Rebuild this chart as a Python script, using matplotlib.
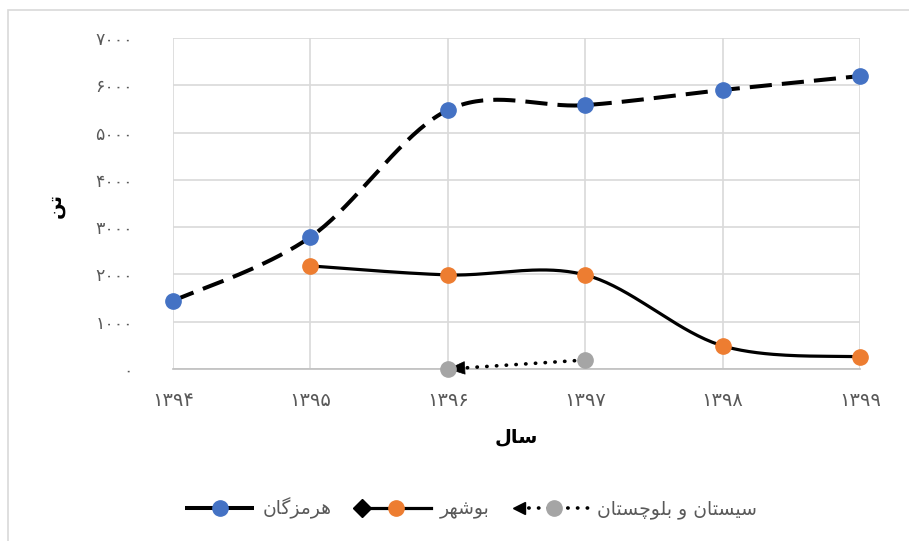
import numpy as np
import matplotlib
matplotlib.use("Agg")
import matplotlib.pyplot as plt
from matplotlib.lines import Line2D
from matplotlib.legend_handler import HandlerBase
from matplotlib.patches import Rectangle

# ---------------- data ----------------
years = [1394, 1395, 1396, 1397, 1398, 1399]
year_labels = ["۱۳۹۴", "۱۳۹۵", "۱۳۹۶", "۱۳۹۷", "۱۳۹۸", "۱۳۹۹"]

hormozgan_years = [1394, 1395, 1396, 1397, 1398, 1399]
hormozgan_vals = [1440, 2790, 5475, 5580, 5900, 6195]

bushehr_years = [1395, 1396, 1397, 1398, 1399]
bushehr_vals = [2180, 1990, 1990, 490, 255]

sistan_years = [1396, 1397]
sistan_vals = [0, 190]

y_ticks = [0, 1000, 2000, 3000, 4000, 5000, 6000, 7000]
y_tick_labels = ["۰", "۱۰۰۰", "۲۰۰۰", "۳۰۰۰", "۴۰۰۰", "۵۰۰۰", "۶۰۰۰", "۷۰۰۰"]

name_hormozgan = "هرمزگان"
name_bushehr = "بوشهر"
name_sistan = "سیستان و بلوچستان"
x_title = "سال"
y_title = "تن"

# ---------------- simple Persian shaping ----------------
FORMS = {
    'ا': ('\uFE8D', '\uFE8E'),
    'و': ('\uFEED', '\uFEEE'),
    'ر': ('\uFEAD', '\uFEAE'),
    'ز': ('\uFEAF', '\uFEB0'),
    'ب': ('\uFE8F', '\uFE90', '\uFE91', '\uFE92'),
    'ت': ('\uFE95', '\uFE96', '\uFE97', '\uFE98'),
    'س': ('\uFEB1', '\uFEB2', '\uFEB3', '\uFEB4'),
    'ش': ('\uFEB5', '\uFEB6', '\uFEB7', '\uFEB8'),
    'ل': ('\uFEDD', '\uFEDE', '\uFEDF', '\uFEE0'),
    'م': ('\uFEE1', '\uFEE2', '\uFEE3', '\uFEE4'),
    'ن': ('\uFEE5', '\uFEE6', '\uFEE7', '\uFEE8'),
    'ه': ('\uFEE9', '\uFEEA', '\uFEEB', '\uFEEC'),
    'ی': ('\uFBFC', '\uFBFD', '\uFBFE', '\uFBFF'),
    'گ': ('\uFB92', '\uFB93', '\uFB94', '\uFB95'),
    'چ': ('\uFB7A', '\uFB7B', '\uFB7C', '\uFB7D'),
}


def shape(text):
    out = []
    n = len(text)
    for i, ch in enumerate(text):
        if ch not in FORMS:
            out.append(ch)
            continue
        prev = text[i - 1] if i > 0 else None
        nxt = text[i + 1] if i + 1 < n else None
        join_prev = prev in FORMS and len(FORMS[prev]) == 4
        join_next = len(FORMS[ch]) == 4 and nxt in FORMS
        f = FORMS[ch]
        if join_prev and join_next:
            out.append(f[3])
        elif join_prev:
            out.append(f[1])
        elif join_next:
            out.append(f[2])
        else:
            out.append(f[0])
    return "".join(out[::-1])


def smooth(xs, ys, n=40):
    P = np.column_stack([xs, ys]).astype(float)
    m = len(P)
    if m < 3:
        return P[:, 0], P[:, 1]
    pts = []
    t = np.linspace(0, 1, n)
    for i in range(m - 1):
        p0 = P[i - 1] if i > 0 else P[i]
        p1 = P[i]
        p2 = P[i + 1]
        p3 = P[i + 2] if i + 2 < m else P[i + 1]
        c1 = p1 + (p2 - p0) / 6.0
        c2 = p2 - (p3 - p1) / 6.0
        seg = ((1 - t) ** 3)[:, None] * p1 + (3 * (1 - t) ** 2 * t)[:, None] * c1 \
            + (3 * (1 - t) * t ** 2)[:, None] * c2 + (t ** 3)[:, None] * p2
        pts.append(seg if i == 0 else seg[1:])
    pts = np.vstack(pts)
    return pts[:, 0], pts[:, 1]


plt.rcParams['font.family'] = ['DejaVu Sans']

W, H = 909, 541
fig = plt.figure(figsize=(W / 100, H / 100), dpi=100)
fig.patch.set_facecolor('white')

# outer chart border (only top/left visible in the crop)
fig.patches.append(Rectangle((8 / W, -0.1), 1.2, 1 - 10 / H + 0.1, transform=fig.transFigure,
                             fill=False, edgecolor='#D9D9D9', lw=1.2))

ax = fig.add_axes([173 / W, 1 - 369 / H, (860 - 173) / W, (369 - 38) / H])
ax.set_xlim(1394, 1399)
ax.set_ylim(0, 7000)

for s in ['top', 'right', 'left']:
    ax.spines[s].set_visible(False)
ax.spines['bottom'].set_color('#BFBFBF')
ax.spines['bottom'].set_linewidth(1.2)

ax.set_yticks(y_ticks)
ax.set_yticklabels(y_tick_labels)
ax.set_xticks(years)
ax.set_xticklabels(year_labels)
ax.tick_params(axis='y', length=0, pad=29, labelsize=12.5, colors='#595959')
ax.tick_params(axis='x', length=0, pad=16, labelsize=14, colors='#595959')
ax.grid(True, color='#D9D9D9', lw=1.2)
ax.set_axisbelow(True)

BLUE = '#4472C4'
ORANGE = '#ED7D31'
GRAY = '#A5A5A5'
MS = 11

# Hormozgan
hx, hy = smooth(hormozgan_years, hormozgan_vals)
ax.plot(hx, hy, color='black', lw=2.9, ls=(0, (5.5, 2.5)), zorder=3, clip_on=False)
ax.plot(hormozgan_years, hormozgan_vals, ls='none', marker='o', ms=MS, color=BLUE,
        zorder=4, clip_on=False)

# Bushehr
bx, by = smooth(bushehr_years, bushehr_vals)
ax.plot(bx, by, color='black', lw=2.3, zorder=5, clip_on=False, solid_capstyle='butt')
ax.plot(bushehr_years, bushehr_vals, ls='none', marker='o', ms=MS, color=ORANGE,
        zorder=6, clip_on=False)

# Sistan
ax.plot(sistan_years, sistan_vals, color='black', lw=2.6, ls=(0, (0.1, 2.6)),
        dash_capstyle='round', zorder=7, clip_on=False)
dx = sistan_years[1] - sistan_years[0]
dy = sistan_vals[1] - sistan_vals[0]
ax.annotate('', xy=(sistan_years[0], sistan_vals[0]),
            xytext=(sistan_years[0] + 0.12 * dx, sistan_vals[0] + 0.12 * dy),
            arrowprops=dict(arrowstyle='-|>,head_length=1.15,head_width=0.45',
                            color='black', lw=0.5, shrinkA=0, shrinkB=0),
            zorder=7, annotation_clip=False)
ax.plot(sistan_years, sistan_vals, ls='none', marker='o', ms=MS, color=GRAY,
        zorder=8, clip_on=False)

# axis titles
fig.text(516 / W, 1 - 437 / H, shape(x_title), ha='center', va='center',
         fontsize=14, fontweight='bold', color='black')
fig.text(55 / W, 1 - 205 / H, shape(y_title), ha='center', va='center',
         fontsize=14, fontweight='bold', color='black', rotation=90)


# legend
class SeriesHandler(HandlerBase):
    def __init__(self, ls, lw, mcolor, end=None, capstyle='butt'):
        super().__init__()
        self.ls, self.lw, self.mcolor, self.end, self.cap = ls, lw, mcolor, end, capstyle

    def create_artists(self, legend, orig_handle, xdescent, ydescent, width, height,
                       fontsize, trans):
        y = height / 2 - ydescent
        x0, x1 = -xdescent, width - xdescent
        arts = []
        ln = Line2D([x0, x1], [y, y], color='black', lw=self.lw, ls=self.ls,
                    dash_capstyle=self.cap)
        arts.append(ln)
        if self.end is not None:
            arts.append(Line2D([x0], [y], ls='none', marker=self.end, ms=9,
                               color='black'))
        arts.append(Line2D([(x0 + x1) / 2], [y], ls='none', marker='o', ms=MS,
                           color=self.mcolor))
        for a in arts:
            a.set_transform(trans)
        return arts


h1 = Line2D([], [])
h2 = Line2D([], [])
h3 = Line2D([], [])
leg = fig.legend([h1, h2, h3], [shape(name_hormozgan), shape(name_bushehr), shape(name_sistan)],
                 loc='center', bbox_to_anchor=(471 / W, 1 - 508 / H), ncol=3, frameon=False,
                 fontsize=13.5, handlelength=3.7, handletextpad=0.45, columnspacing=1.6,
                 labelcolor='#595959',
                 handler_map={h1: SeriesHandler((0, (7.8, 1.6)), 2.9, BLUE),
                              h2: SeriesHandler('-', 2.3, ORANGE, end='D'),
                              h3: SeriesHandler((0, (0.1, 2.6)), 2.6, GRAY, end='<',
                                                capstyle='round')})

fig.savefig('out.png', dpi=100, facecolor='white')
